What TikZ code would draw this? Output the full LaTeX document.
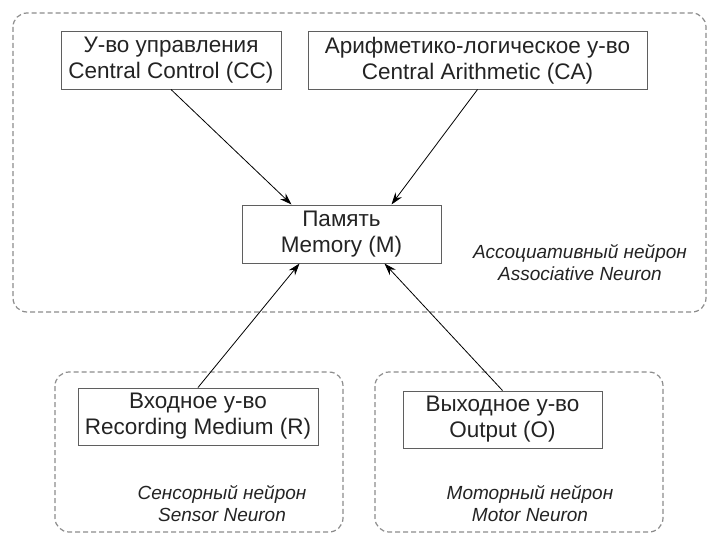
\documentclass[tikz,border=0pt]{standalone}
\usepackage{fontspec}
\setmainfont{Liberation Sans}
\usepackage{tikz}
\usetikzlibrary{arrows.meta}

\begin{document}
\begin{tikzpicture}[x=1pt,y=-1pt,
    unit/.style={draw=boxgray,line width=1pt,align=center,text=txt,
        font=\fontsize{22.5}{26}\selectfont,inner sep=0pt,minimum height=57pt},
    region/.style={draw=dashgray,line width=1.2pt,dash pattern=on 5pt off 3pt,rounded corners=14pt},
    caption/.style={align=center,text=txt,font=\fontsize{19}{22}\selectfont\itshape},
    arr/.style={draw=black,line width=0.8pt,-{Stealth[length=12pt,width=8pt]}}]
% Define colours
\definecolor{txt}{RGB}{35,35,35}
\definecolor{boxgray}{RGB}{95,95,95}
\definecolor{dashgray}{RGB}{140,140,140}

\useasboundingbox (0,0) rectangle (709,535);

% Draw neuron regions
\draw[region] (13,13) rectangle (706,312);
\draw[region] (55,372) rectangle (343,532);
\draw[region] (375,372) rectangle (663,532);

% Draw units
\node[unit,minimum width=220pt] (cc) at (171,60.5) {У-во управления\\Central Control (CC)};
\node[unit,minimum width=339pt] (ca) at (477.5,60.5) {Арифметико-логическое у-во\\Central Arithmetic (CA)};
\node[unit,minimum width=199pt,minimum height=58pt] (mem) at (341.5,234) {Память\\Memory (M)};
\node[unit,minimum width=240pt] (rec) at (198,416.5) {Входное у-во\\Recording Medium (R)};
\node[unit,minimum width=199pt] (out) at (502.5,419.5) {Выходное у-во\\Output (O)};

% Add region names
\node[caption] (assoc) at (580,263) {Ассоциативный нейрон\\Associative Neuron};
\node[caption] (sensor) at (222,504) {Сенсорный нейрон\\Sensor Neuron};
\node[caption] (motor) at (530,504) {Моторный нейрон\\Motor Neuron};

% Add connections
\draw[arr] (cc.south) -- ([xshift=-50pt]mem.north);
\draw[arr] (ca.south) -- ([xshift=50pt]mem.north);
\draw[arr] (rec.north) -- ([xshift=-42pt]mem.south);
\draw[arr] (out.north) -- ([xshift=43pt]mem.south);
\end{tikzpicture}
\end{document}
